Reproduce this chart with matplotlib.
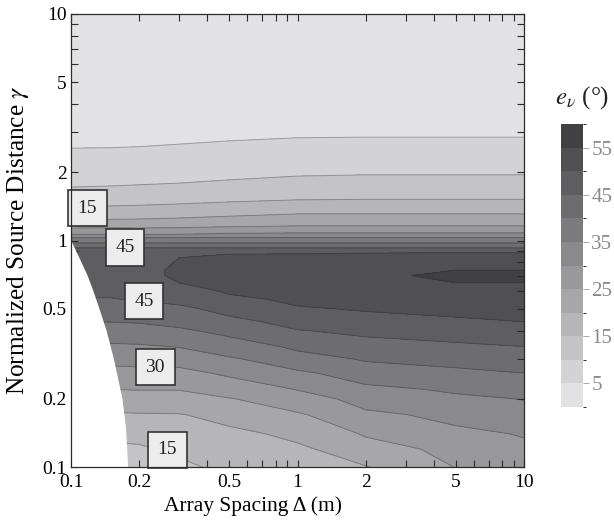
#!/usr/bin/env python3
"""Filled contour of bearing error e_v over array spacing and source distance."""

import matplotlib

matplotlib.use("Agg")
import matplotlib.pyplot as plt
import numpy as np
from matplotlib.colors import ListedColormap, BoundaryNorm
from matplotlib.ticker import FixedLocator, LogLocator, NullFormatter

# grid
DELTA = [0.1, 0.15, 0.2, 0.3, 0.5, 1, 2, 5, 10]
GAMMA = [10, 2.86, 1.95, 1.52, 1.31, 1.16, 1.08, 1.03, 0.975, 0.927,
         0.88, 0.80, 0.74, 0.70, 0.65, 0.60, 0.55, 0.50, 0.44, 0.40,
         0.34, 0.30, 0.26, 0.22, 0.20, 0.17, 0.14, 0.12, 0.10]

# e_v (deg) per array spacing column, top (gamma=10) to bottom (gamma=0.1)
ERR_D010 = [1, 4.9, 5.2, 14.2, 15.8, 23.7, 27.9, 35, 40, 45, 46, 47, 47.5, 47.5, 47,
            46, 44.8, 42.8, 40.2, 38, 34.3, 31.6, 28.5, 25, 22.8, 19.5, 16.2, 14, 12]
ERR_D015 = [1, 4.2, 6.7, 13.5, 16.7, 23.8, 27.9, 35, 40, 45, 46, 47, 47.5, 47.5, 47,
            46, 44.8, 42.8, 40.2, 38, 34.3, 31.6, 28.5, 25, 22.8, 19.5, 16.2, 14, 12]
ERR_D020 = [1, 4.1, 7.2, 13.6, 16.9, 24.0, 27.2, 35, 40, 45.2, 46, 47.5, 48.5, 48.5, 48,
            47, 45.4, 43.2, 40.5, 38.2, 34.5, 31.8, 28.7, 25.2, 23, 19.7, 16.5, 14.4, 12.5]
ERR_D030 = [1, 4.2, 7.9, 13.6, 17.8, 24.0, 27.9, 35, 40, 45, 49.5, 50.5, 51, 51, 50,
            48.3, 46.4, 44.1, 41.5, 39.3, 35.2, 32.1, 28.7, 25.2, 23, 19.8, 17.7, 16, 14]
ERR_D050 = [1, 4.5, 8.8, 14.1, 18.9, 24.4, 29.5, 35, 40, 45, 49.8, 51.5, 52.5, 52.5, 51.8,
            50.7, 49.1, 46.7, 43.9, 41.6, 37.6, 34.5, 31, 27.1, 24.8, 21.5, 19.1, 17.9, 16.5]
ERR_D1 = [1, 4.9, 9.7, 14.8, 20, 25, 30, 35, 40, 45, 49.8, 52, 53.5, 54, 53,
          52, 51, 49.6, 47, 44.8, 41.1, 38.1, 34.3, 30.2, 28, 24.5, 21.1, 19.3, 18]
ERR_D2 = [1, 5, 10, 15, 20, 25, 30, 35, 40, 45, 50, 52, 53.5, 54, 53.5,
          52.7, 51.8, 50.5, 48.3, 46.3, 43.1, 40.6, 37.5, 34, 32.1, 29.1, 25.6, 22.9, 19.8]
ERR_D5 = [1, 5, 10, 15, 20, 25, 30, 35, 40, 45, 50.3, 53, 55, 56.5, 55,
          53.8, 52.6, 51.3, 49.4, 47.4, 44.2, 41.8, 39, 35.8, 34.1, 31.6, 28.9, 27.1, 25.2]
ERR_D10 = [1, 5, 10, 15, 20, 25, 30, 35, 40, 45, 50.5, 53, 55, 57, 55,
           54, 53, 52, 50.1, 48.3, 45, 42.7, 40, 37, 35.2, 33, 30.4, 29, 27]

# edge of the undefined (white) region
EDGE_GAMMA = [1.0, 0.9, 0.8, 0.7, 0.6, 0.5, 0.4, 0.3, 0.2, 0.15, 0.1]
EDGE_DELTA = [0.1, 0.105, 0.111, 0.118, 0.125, 0.133, 0.143, 0.154, 0.168, 0.174, 0.178]

LEVELS = list(range(0, 65, 5))
CBAR_TICKS = [5, 15, 25, 35, 45, 55]
AXIS_TICKS = [0.1, 0.2, 0.5, 1, 2, 5, 10]
AXIS_TICKLABELS = ["0.1", "0.2", "0.5", "1", "2", "5", "10"]

FS_XLABEL = 15.5
FS_YLABEL = 18.2
FS_TICK = 14
FS_CLABEL = 14
SPINE_COLOR = "#2b2b2b"


def band_colors(n):
    grays = np.linspace(0.885, 0.255, n)
    return [(g, g, g + 0.008) for g in grays]


def main():
    plt.rcParams["font.family"] = "serif"
    plt.rcParams["font.serif"] = ["Liberation Serif", "DejaVu Serif"]
    plt.rcParams["mathtext.fontset"] = "stix"

    fig = plt.figure(figsize=(6.14, 5.29), dpi=100)
    ax = fig.add_axes([71 / 614, 62 / 529, 453 / 614, 453 / 529])

    err = np.column_stack([ERR_D010, ERR_D015, ERR_D020, ERR_D030, ERR_D050,
                           ERR_D1, ERR_D2, ERR_D5, ERR_D10])
    dd, gg = np.meshgrid(DELTA, GAMMA)

    cmap = ListedColormap(band_colors(len(LEVELS) - 1))
    norm = BoundaryNorm(LEVELS, cmap.N)
    cf = ax.contourf(dd, gg, err, levels=LEVELS, cmap=cmap, norm=norm)
    ax.contour(dd, gg, err, levels=LEVELS[1:-1], colors="#1a1a1a",
               linewidths=0.7, alpha=0.3)

    # white region where the estimate is undefined
    ax.fill_betweenx(EDGE_GAMMA, 0.09, EDGE_DELTA, color="white",
                     linewidth=0, zorder=2)

    box = dict(boxstyle="square,pad=0.5", facecolor="#ececec",
               edgecolor="#333333", linewidth=1.2)
    for x, y, txt in [(0.118, 1.39, "15"), (0.173, 0.93, "45"),
                      (0.21, 0.54, "45"), (0.235, 0.276, "30"),
                      (0.266, 0.119, "15")]:
        ax.text(x, y, txt, fontsize=FS_CLABEL, ha="center", va="center",
                color="#222222", bbox=box, zorder=5)

    ax.set_xscale("log")
    ax.set_yscale("log")
    ax.set_xlim(0.1, 10)
    ax.set_ylim(0.1, 10)
    for axis in (ax.xaxis, ax.yaxis):
        axis.set_major_locator(FixedLocator(AXIS_TICKS))
        axis.set_major_formatter(plt.FixedFormatter(AXIS_TICKLABELS))
        axis.set_minor_locator(LogLocator(base=10, subs=np.arange(2, 10)))
        axis.set_minor_formatter(NullFormatter())
    ax.tick_params(which="both", direction="in", top=True, right=True,
                   length=5, width=0.8, color=SPINE_COLOR, labelsize=FS_TICK)
    ax.tick_params(axis="x", pad=5)
    ax.tick_params(axis="y", pad=3)
    for sp in ax.spines.values():
        sp.set_color(SPINE_COLOR)
        sp.set_linewidth(0.9)
        sp.set_zorder(6)

    ax.set_xlabel("Array Spacing Δ (m)", fontsize=FS_XLABEL)
    ax.xaxis.set_label_coords((253 - 71) / 453, -0.065)
    ax.set_ylabel(r"Normalized Source Distance $\gamma$", fontsize=FS_YLABEL)
    ax.yaxis.set_label_coords(-0.088, 0.5)

    cax = fig.add_axes([561 / 614, 122 / 529, 22 / 614, 283 / 529])
    cb = fig.colorbar(cf, cax=cax, ticks=CBAR_TICKS)
    cb.outline.set_visible(False)
    cb.ax.tick_params(length=4, width=0.6, color="#9a9a9a", labelcolor="#8a8a8a",
                      labelsize=15, pad=2)
    fig.text(555 / 614, 1 - 98 / 529, r"$e_{\nu}$ (°)", fontsize=18,
             ha="left", va="center", color="#222222")

    fig.savefig("out.png", dpi=100)
    plt.close(fig)


if __name__ == "__main__":
    main()
